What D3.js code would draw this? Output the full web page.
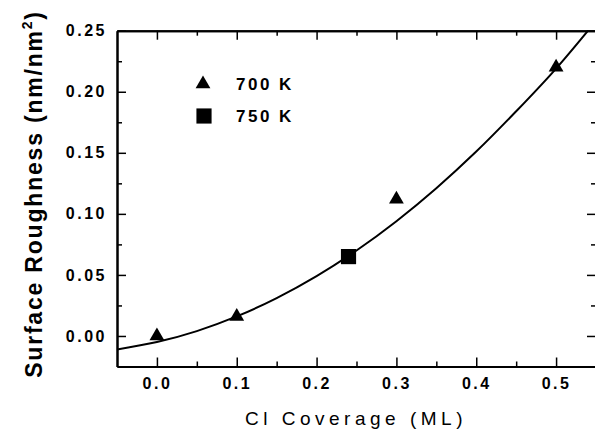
<!DOCTYPE html>
<html>
<head>
<meta charset="utf-8">
<script src="https://cdn.jsdelivr.net/npm/d3@7"></script>
<style>
  body { margin: 0; background: #fff; }
  svg { display: block; }
  .tick text { font-family: "Liberation Sans", Arial, sans-serif; font-weight: bold; font-size: 16px; letter-spacing: 2.5px; fill: #000; }
  .label { font-family: "Liberation Sans", Arial, sans-serif; fill: #000; }
</style>
</head>
<body>
<svg id="chart" width="595" height="431"></svg>
<script>
// 700 K runs (triangles)
let k700_x = [0.0, 0.1, 0.3, 0.5]
let k700_y = [0.0, 0.016, 0.112, 0.220]
// 750 K run (square)
let k750_x = [0.24]
let k750_y = [0.065]
// fitted curve
let fit_x = [-0.05, 0.0, 0.05, 0.1, 0.15, 0.2, 0.25, 0.3, 0.35, 0.4, 0.45, 0.5, 0.55]
let fit_y = [-0.011, -0.005, 0.004, 0.016, 0.031, 0.049, 0.070, 0.094, 0.121, 0.151, 0.184, 0.219, 0.258]

let xTicks = [0.0, 0.1, 0.2, 0.3, 0.4, 0.5]
let xMinor = [0.05, 0.15, 0.25, 0.35, 0.45]
let yTicks = [0.0, 0.05, 0.10, 0.15, 0.20, 0.25]
let yMinor = [0.025, 0.075, 0.125, 0.175, 0.225]

let m = {top: 30.7, left: 117, right: -1, bottom: 64.5}
let W = 595, H = 431

let svg = d3.select('#chart')

let xScale = d3.scaleLinear().domain([-0.05, 0.55]).range([m.left, W - m.right])
let yScale = d3.scaleLinear().domain([-0.025, 0.25]).range([H - m.bottom, m.top])

svg.append('clipPath').attr('id', 'clip')
    .append('rect')
    .attr('x', m.left).attr('y', m.top)
    .attr('width', W - m.right - m.left).attr('height', H - m.bottom - m.top)

// axes - ticks point inward
function drawAxis(axis, transform, showLabels) {
    let g = svg.append('g').attr('transform', transform).call(axis)
    g.select('.domain').attr('stroke', '#000').attr('stroke-width', 2)
    g.selectAll('.tick line').attr('stroke', '#000').attr('stroke-width', 1.5)
    if (!showLabels) g.selectAll('.tick text').remove()
    return g
}

// bottom
drawAxis(d3.axisBottom(xScale).tickValues(xTicks).tickFormat(d3.format('.1f'))
    .tickSizeInner(-9).tickSizeOuter(0).tickPadding(11), `translate(0, ${yScale(-0.025)})`, true)
drawAxis(d3.axisBottom(xScale).tickValues(xMinor).tickSizeInner(-5).tickSizeOuter(0), `translate(0, ${yScale(-0.025)})`, false)
// top
drawAxis(d3.axisTop(xScale).tickValues(xTicks).tickSizeInner(-9).tickSizeOuter(0), `translate(0, ${yScale(0.25)})`, false)
drawAxis(d3.axisTop(xScale).tickValues(xMinor).tickSizeInner(-5).tickSizeOuter(0), `translate(0, ${yScale(0.25)})`, false)
// left
drawAxis(d3.axisLeft(yScale).tickValues(yTicks).tickFormat(d3.format('.2f'))
    .tickSizeInner(-9).tickSizeOuter(0).tickPadding(10), `translate(${xScale(-0.05)}, 0)`, true)
drawAxis(d3.axisLeft(yScale).tickValues(yMinor).tickSizeInner(-5).tickSizeOuter(0), `translate(${xScale(-0.05)}, 0)`, false)
// right
drawAxis(d3.axisRight(yScale).tickValues(yTicks).tickSizeInner(-9).tickSizeOuter(0), `translate(${xScale(0.55)}, 0)`, false)
drawAxis(d3.axisRight(yScale).tickValues(yMinor).tickSizeInner(-5).tickSizeOuter(0), `translate(${xScale(0.55)}, 0)`, false)

// fit curve
let fitData = fit_x.map((d, i) => ({x: d, y: fit_y[i]}))
let line = d3.line().x(d => xScale(d.x)).y(d => yScale(d.y)).curve(d3.curveMonotoneX)
svg.append('path')
    .datum(fitData)
    .attr('clip-path', 'url(#clip)')
    .attr('d', line)
    .attr('fill', 'none')
    .attr('stroke', '#000')
    .attr('stroke-width', 2)

let triangle = d3.symbol().type(d3.symbolTriangle).size(95)
let square = d3.symbol().type(d3.symbolSquare).size(230)

svg.selectAll('.tri')
    .data(k700_x.map((d, i) => ({x: d, y: k700_y[i]})))
    .enter().append('path')
    .attr('class', 'tri')
    .attr('d', triangle)
    .attr('transform', d => `translate(${xScale(d.x)}, ${yScale(d.y)})`)
    .attr('fill', '#000')

svg.selectAll('.sq')
    .data(k750_x.map((d, i) => ({x: d, y: k750_y[i]})))
    .enter().append('path')
    .attr('class', 'sq')
    .attr('d', square)
    .attr('transform', d => `translate(${xScale(d.x)}, ${yScale(d.y)})`)
    .attr('fill', '#000')

// legend
let legend = svg.append('g')
legend.append('path').attr('d', triangle).attr('transform', 'translate(203, 84)').attr('fill', '#000')
legend.append('path').attr('d', square).attr('transform', 'translate(204, 116)').attr('fill', '#000')
legend.append('text').attr('class', 'label').attr('x', 236).attr('y', 90)
    .style('font-size', '17px').style('font-weight', 'bold').style('letter-spacing', '2.5px').text('700 K')
legend.append('text').attr('class', 'label').attr('x', 236).attr('y', 122)
    .style('font-size', '17px').style('font-weight', 'bold').style('letter-spacing', '2.5px').text('750 K')

// axis labels
svg.append('text')
    .attr('class', 'label')
    .attr('x', 356).attr('y', 425)
    .attr('text-anchor', 'middle')
    .style('font-size', '19px')
    .style('letter-spacing', '4.5px')
    .text('Cl Coverage (ML)')

let ylab = svg.append('text')
    .attr('class', 'label')
    .attr('text-anchor', 'middle')
    .attr('transform', 'translate(42, 194) rotate(-90)')
    .style('font-size', '23px')
    .style('font-weight', 'bold')
    .style('letter-spacing', '1.8px')
ylab.append('tspan').text('Surface Roughness (nm/nm')
ylab.append('tspan').attr('dy', -10).style('font-size', '14px').text('2')
ylab.append('tspan').attr('dy', 10).text(')')
</script>
</body>
</html>
